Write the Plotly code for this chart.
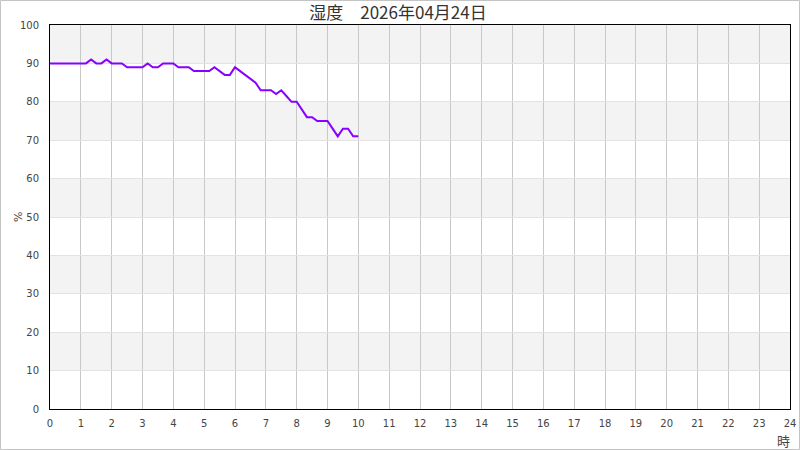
import plotly.graph_objects as go

# ---- data ----
times = ["00:00","00:10","00:20","00:30","00:40","00:50",
         "01:00","01:10","01:20","01:30","01:40","01:50",
         "02:00","02:10","02:20","02:30","02:40","02:50",
         "03:00","03:10","03:20","03:30","03:40","03:50",
         "04:00","04:10","04:20","04:30","04:40","04:50",
         "05:00","05:10","05:20","05:30","05:40","05:50",
         "06:00","06:10","06:20","06:30","06:40","06:50",
         "07:00","07:10","07:20","07:30","07:40","07:50",
         "08:00","08:10","08:20","08:30","08:40","08:50",
         "09:00","09:10","09:20","09:30","09:40","09:50",
         "10:00"]
humidity = [90, 90, 90, 90, 90, 90,
            90, 90, 91, 90, 90, 91,
            90, 90, 90, 89, 89, 89,
            89, 90, 89, 89, 90, 90,
            90, 89, 89, 89, 88, 88,
            88, 88, 89, 88, 87, 87,
            89, 88, 87, 86, 85, 83,
            83, 83, 82, 83, 81.5, 80,
            80, 78, 76, 76, 75, 75,
            75, 73, 71, 73, 73, 71,
            71]
x_ticks = list(range(0, 25))
y_ticks = list(range(0, 101, 10))
band_ranges = [(10, 20), (30, 40), (50, 60), (70, 80), (90, 100)]
title_text = "湿度　2026年04月24日"

hours = [int(t[:2]) + int(t[3:]) / 60 for t in times]

fig = go.Figure()
fig.add_trace(go.Scatter(x=hours, y=humidity, mode="lines",
                         line=dict(color="#8a00ff", width=2),
                         hoverinfo="x+y", showlegend=False))

shapes = []
for lo, hi in band_ranges:
    shapes.append(dict(type="rect", xref="paper", yref="y", x0=0, x1=1, y0=lo, y1=hi,
                       fillcolor="#f3f3f3", line=dict(width=0), layer="below"))
# outer border of the picture
L, R, T, B = 50, 10, 25, 41
W, H = 800 - L - R, 450 - T - B
shapes.append(dict(type="rect", xref="paper", yref="paper",
                   x0=(0.5 - L) / W, x1=(799.5 - L) / W,
                   y0=(H + T - 449.5) / H, y1=(H + T - 0.5) / H,
                   line=dict(color="#c4c4c4", width=1), fillcolor="rgba(0,0,0,0)", layer="below"))

tickfont = dict(family="DejaVu Sans", size=10, color="#444444")
fig.update_layout(
    width=800, height=450,
    margin=dict(l=L, r=R, t=T, b=B, autoexpand=False),
    paper_bgcolor="white", plot_bgcolor="white",
    title=dict(text=title_text, x=0.4975, xref="container", y=0.972, yref="container",
               xanchor="center", yanchor="middle",
               font=dict(family="Noto Sans CJK JP", size=17, color="#333333")),
    shapes=shapes,
    xaxis=dict(range=[0, 24], tickvals=x_ticks, ticktext=[str(v) for v in x_ticks],
               automargin=False,
               showline=True, linecolor="black", linewidth=1, mirror=True,
               showgrid=True, gridcolor="#c8c8c8", gridwidth=1, zeroline=False,
               ticks="outside", ticklen=5, tickcolor="rgba(0,0,0,0)", tickfont=tickfont),
    yaxis=dict(range=[0, 100], tickvals=y_ticks, ticktext=[str(v) for v in y_ticks],
               automargin=False,
               showline=True, linecolor="black", linewidth=1, mirror=True,
               showgrid=True, gridcolor="#e2e2e2", gridwidth=1, zeroline=False,
               ticks="outside", ticklen=8, tickcolor="rgba(0,0,0,0)", tickfont=tickfont),
    annotations=[
        dict(text="%", xref="paper", yref="paper", x=(18 - L) / W, y=0.5,
             textangle=-90, showarrow=False, xanchor="center", yanchor="middle",
             font=dict(family="DejaVu Sans", size=11, color="#444444")),
        dict(text="時", xref="paper", yref="paper", x=(783 - L) / W, y=(H + T - 440) / H,
             showarrow=False, xanchor="center", yanchor="middle",
             font=dict(family="Noto Sans CJK JP", size=13, color="#444444")),
    ],
)

fig.write_html("out.html", config={"displayModeBar": False},
               post_script=("document.documentElement.style.margin='0';"
                            "document.documentElement.style.overflow='hidden';"
                            "document.body.style.margin='0';document.body.style.padding='0';"
                            "document.body.style.overflow='hidden';"))
